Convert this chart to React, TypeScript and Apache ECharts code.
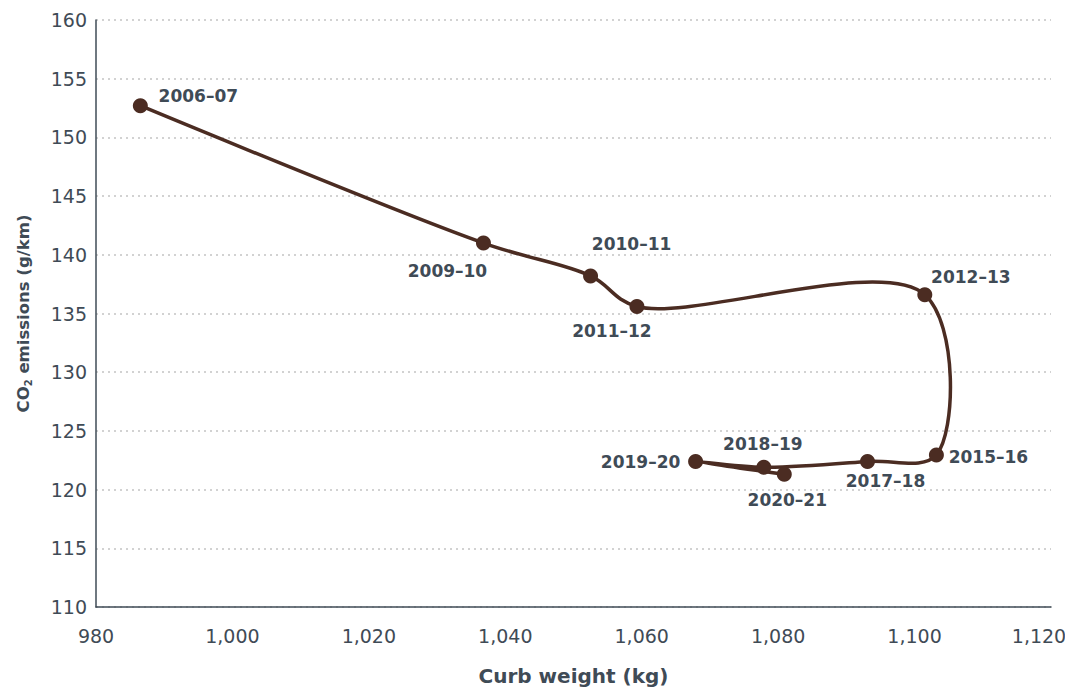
import React, { useEffect, useRef } from "react";
import * as echarts from "echarts";

const years = ["2006–07", "2009–10", "2010–11", "2011–12", "2012–13", "2015–16", "2017–18", "2018–19", "2019–20", "2020–21"];
const curbWeight = [986.5, 1036.8, 1052.5, 1059.3, 1101.5, 1103.2, 1093.1, 1077.9, 1067.9, 1080.9];
const co2 = [152.7, 141.0, 138.2, 135.6, 136.6, 122.95, 122.4, 121.9, 122.4, 121.3];
const labelOffsets = [[58, -10], [-36, 28], [41, -32], [-25, 25], [46, -18], [52, 2], [18, 20], [-1, -23], [-55, 1], [3, 26]];

const FONT = "'DejaVu Sans', sans-serif";
const TXT = "#3f4b56";
const LINE = "#4b2c22";

// centripetal Catmull-Rom (alpha 0.5) through pixel points
function catmullRomPath(pts: number[][]): string {
  const alpha = 0.5;
  const eps = 1e-12;
  let d = `M${pts[0][0]},${pts[0][1]}`;
  const n = pts.length;
  const dist = (a: number[], b: number[]) => Math.hypot(a[0] - b[0], a[1] - b[1]);
  for (let i = 0; i < n - 1; i++) {
    const p0 = pts[i - 1] || pts[i];
    const p1 = pts[i];
    const p2 = pts[i + 1];
    const p3 = pts[i + 2] || pts[i + 1];
    const l01_2a = Math.pow(dist(p0, p1), 2 * alpha);
    const l01_a = Math.sqrt(l01_2a);
    const l12_2a = Math.pow(dist(p1, p2), 2 * alpha);
    const l12_a = Math.sqrt(l12_2a);
    const l23_2a = Math.pow(dist(p2, p3), 2 * alpha);
    const l23_a = Math.sqrt(l23_2a);
    let x1 = p1[0], y1 = p1[1], x2 = p2[0], y2 = p2[1];
    if (l01_a > eps) {
      const a = 2 * l01_2a + 3 * l01_a * l12_a + l12_2a;
      const nn = 3 * l01_a * (l01_a + l12_a);
      x1 = (x1 * a - p0[0] * l12_2a + p2[0] * l01_2a) / nn;
      y1 = (y1 * a - p0[1] * l12_2a + p2[1] * l01_2a) / nn;
    }
    if (l23_a > eps) {
      const b = 2 * l23_2a + 3 * l23_a * l12_a + l12_2a;
      const m = 3 * l23_a * (l23_a + l12_a);
      x2 = (x2 * b + p1[0] * l23_2a - p3[0] * l12_2a) / m;
      y2 = (y2 * b + p1[1] * l23_2a - p3[1] * l12_2a) / m;
    }
    d += ` C${x1},${y1} ${x2},${y2} ${p2[0]},${p2[1]}`;
  }
  return d;
}

export default function App() {
  const ref = useRef<HTMLDivElement>(null);
  useEffect(() => {
    const chart = echarts.init(ref.current!, undefined, { renderer: "svg" });
    const pointData = curbWeight.map((x, i) => [x, co2[i]]);
    chart.setOption({
      animation: false,
      grid: { left: 96, right: 14, top: 20, bottom: 81, containLabel: false, outerBoundsMode: "none" },
      xAxis: {
        type: "value",
        min: 980,
        max: 1120,
        interval: 20,
        name: "Curb weight (kg)",
        nameLocation: "middle",
        nameGap: 59,
        nameTextStyle: { fontFamily: FONT, fontSize: 20, fontWeight: "bold", color: TXT },
        axisLine: { show: true, lineStyle: { color: TXT, width: 1.5 } },
        axisTick: { show: false },
        splitLine: { show: false },
        axisLabel: {
          fontFamily: FONT,
          fontSize: 19,
          color: TXT,
          margin: 19,
          formatter: (v: number) => (v === 1120 ? "{last|1,120}" : v.toLocaleString("en-US")),
          rich: {
            last: { fontFamily: FONT, fontSize: 19, color: TXT, padding: [0, 24, 0, 0] },
          },
        },
      },
      yAxis: {
        type: "value",
        min: 110,
        max: 160,
        interval: 5,
        name: "CO{sub|2} emissions (g/km)",
        nameLocation: "middle",
        nameGap: 63,
        nameTextStyle: {
          fontFamily: FONT,
          fontSize: 16.5,
          fontWeight: "bold",
          color: TXT,
          rich: {
            sub: { fontFamily: FONT, fontSize: 10, fontWeight: "bold", color: TXT, padding: [10, 0, 0, 0] },
          },
        },
        axisLine: { show: true, lineStyle: { color: TXT, width: 1.5 } },
        axisTick: { show: false },
        splitLine: { show: true, lineStyle: { color: "#c4c4c4", type: [2, 4], width: 1.5 } },
        axisLabel: { fontFamily: FONT, fontSize: 19, color: TXT, margin: 9 },
      },
      series: [
        {
          type: "custom",
          z: 2,
          silent: true,
          data: pointData,
          encode: { x: 0, y: 1 },
          renderItem: (params: any, api: any) => {
            if (params.dataIndex !== 0) return null;
            const px = pointData.map((p) => api.coord(p));
            return {
              type: "path",
              shape: { pathData: catmullRomPath(px) },
              style: { fill: "none", stroke: LINE, lineWidth: 3.5 },
            };
          },
        },
        {
          type: "scatter",
          z: 3,
          symbol: "circle",
          symbolSize: 15,
          itemStyle: { color: LINE, opacity: 1 },
          data: pointData.map((v, i) => ({
            value: v,
            name: years[i],
            label: {
              show: true,
              position: "inside",
              offset: labelOffsets[i],
              formatter: years[i],
              fontFamily: FONT,
              fontSize: 17,
              fontWeight: "bold",
              color: TXT,
            },
          })),
        },
      ],
    });
    return () => chart.dispose();
  }, []);
  return <div ref={ref} style={{ width: 1065, height: 688, position: "absolute", left: 0, top: 0 }} />;
}
